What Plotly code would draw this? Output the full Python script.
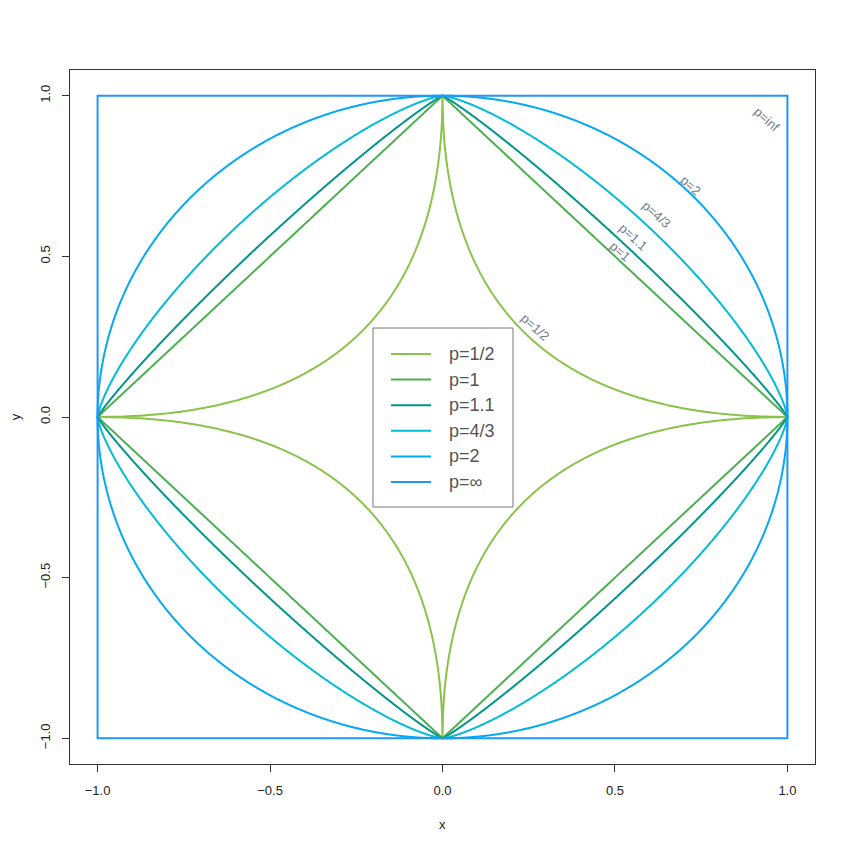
import numpy as np
import plotly.graph_objects as go

# Norm orders and styling
p_values = [0.5, 1.0, 1.1, 4/3, 2.0, np.inf]
legend_labels = ["p=1/2", "p=1", "p=1.1", "p=4/3", "p=2", "p=∞"]
curve_labels = ["p=1/2", "p=1", "p=1.1", "p=4/3", "p=2", "p=inf"]
colors = ["#8BC34A", "#4CAF50", "#009688", "#00BCD4", "#03A9F4", "#2196F3"]
# label anchor positions (data coords)
label_x = [0.27, 0.515, 0.555, 0.62, 0.72, 0.94]
label_y = [0.28, 0.515, 0.56, 0.63, 0.722, 0.925]
x_ticks = [-1.0, -0.5, 0.0, 0.5, 1.0]
tick_text = ["\u22121.0", "\u22120.5", "0.0", "0.5", "1.0"]

t = np.linspace(0, 2 * np.pi, 4001)
cx, cy = np.cos(t), np.sin(t)


def unit_ball(p):
    if np.isinf(p):
        n = np.maximum(np.abs(cx), np.abs(cy))
    else:
        n = (np.abs(cx) ** p + np.abs(cy) ** p) ** (1.0 / p)
    return cx / n, cy / n


FONT = "Liberation Sans, Arial"
fig = go.Figure()
for i, p in enumerate(p_values):
    x, y = unit_ball(p)
    fig.add_trace(go.Scatter(
        x=x, y=y, mode="lines", name=legend_labels[i],
        line=dict(color=colors[i], width=2, simplify=False),
        hoverinfo="skip", showlegend=False,
    ))

for i in range(len(p_values)):
    fig.add_annotation(
        x=label_x[i], y=label_y[i], text=curve_labels[i], showarrow=False,
        textangle=42, font=dict(family=FONT, size=13, color="#708090"),
        xanchor="center", yanchor="middle",
    )

# Legend box (R-style), positioned in paper coordinates
fig.add_shape(type="rect", xref="paper", yref="paper",
              x0=0.4067, x1=0.5946, y0=0.3703, y1=0.6282,
              line=dict(color="#777", width=1), fillcolor="white", layer="above")
leg_top = 0.5908
leg_step = 0.03689
for i, lab in enumerate(legend_labels):
    yy = leg_top - i * leg_step
    fig.add_shape(type="line", xref="paper", yref="paper",
                  x0=0.4309, x1=0.4846, y0=yy, y1=yy,
                  line=dict(color=colors[i], width=2), layer="above")
    fig.add_annotation(x=0.506, y=yy, xref="paper", yref="paper", text=lab,
                       showarrow=False, xanchor="left", yanchor="middle",
                       font=dict(family=FONT, size=18, color="#555"))

fig.add_annotation(x=0.5, y=-0.0865, xref="paper", yref="paper", text="x", showarrow=False,
                   xanchor="center", yanchor="middle",
                   font=dict(family=FONT, size=13, color="#222"))
fig.add_annotation(x=-0.0735, y=0.5, xref="paper", yref="paper", text="y", showarrow=False,
                   xanchor="center", yanchor="middle",
                   textangle=-90, font=dict(family=FONT, size=13, color="#222"))

axis_common = dict(
    range=[-1.08, 1.08], showgrid=False, zeroline=False,
    showline=True, linecolor="#333", linewidth=1, mirror=True,
    ticks="outside", ticklen=7, tickcolor="#333",
    tickvals=x_ticks, ticktext=tick_text,
    tickfont=dict(family=FONT, size=13, color="#222"),
)

fig.update_layout(
    width=850, height=850,
    margin=dict(l=62, r=43, t=62, b=94),
    paper_bgcolor="white", plot_bgcolor="white",
    xaxis=dict(**axis_common, ticklabelstandoff=7),
    yaxis=dict(**axis_common, tickangle=-90, ticklabelstandoff=7),
    showlegend=False,
)

fig.write_html("out.html")
